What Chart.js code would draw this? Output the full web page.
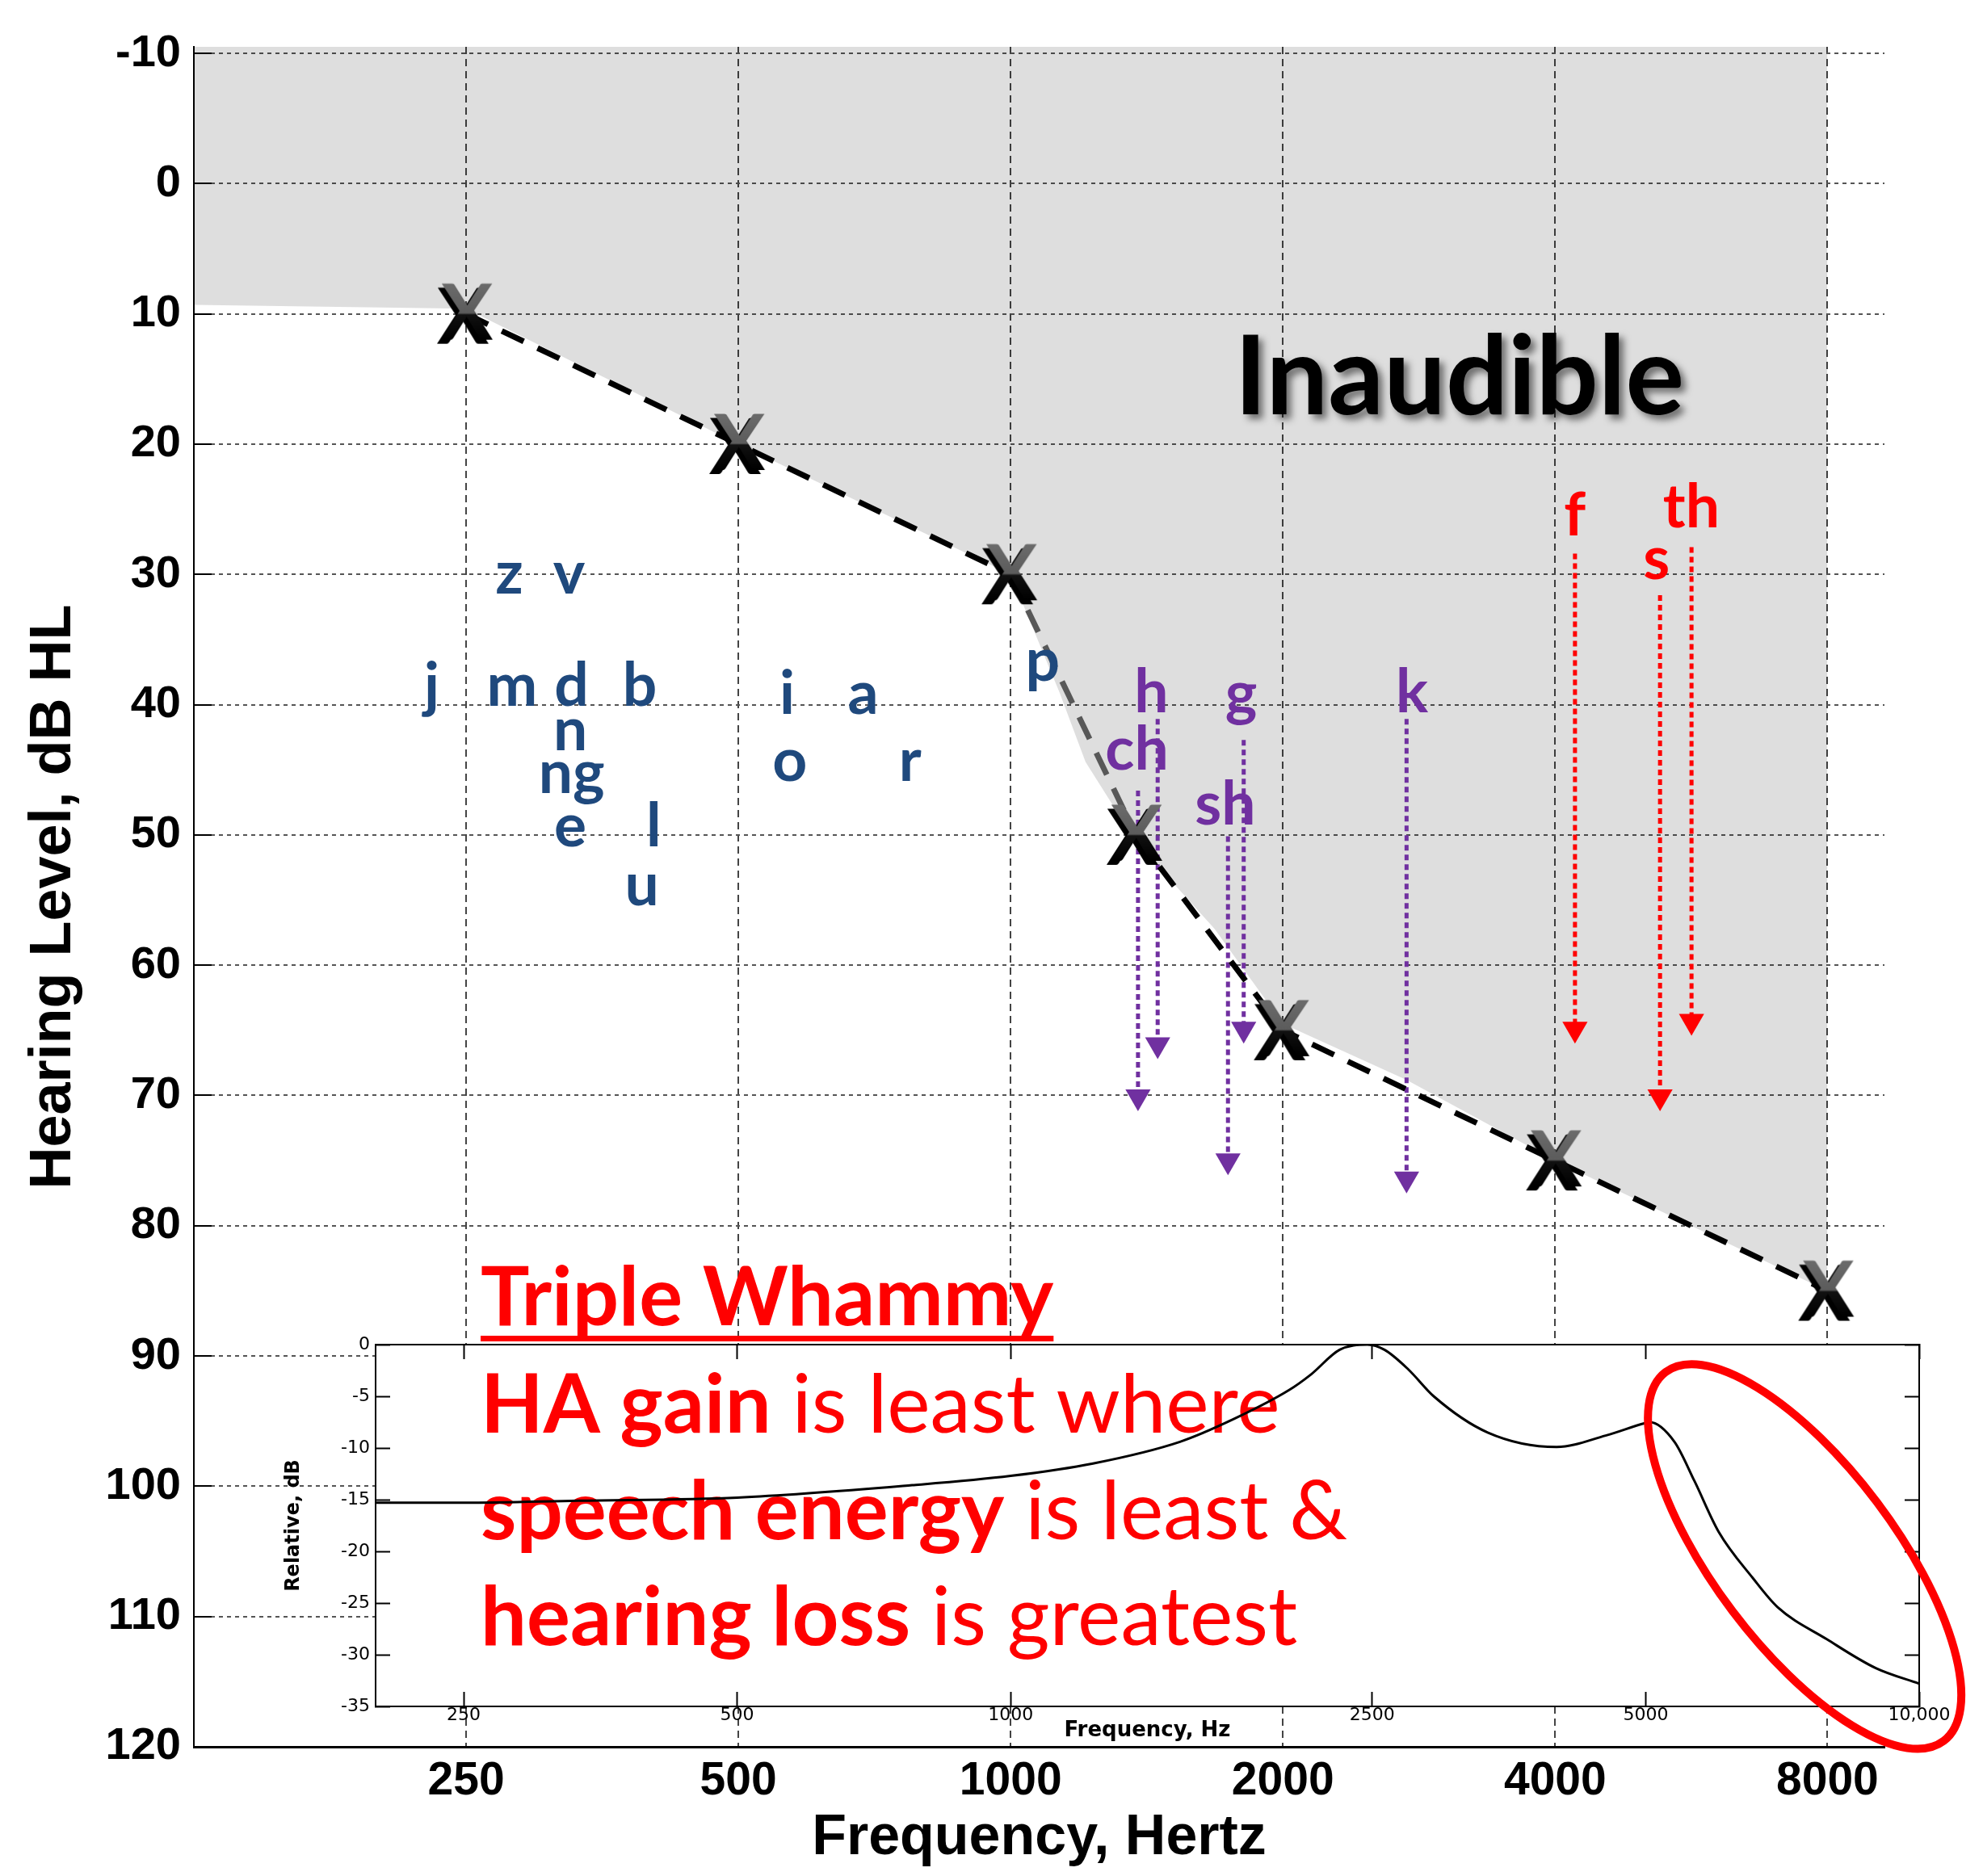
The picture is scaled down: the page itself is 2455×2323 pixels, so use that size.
<!DOCTYPE html>
<html>
<head>
<meta charset="utf-8">
<title>Audiogram - speech sounds and hearing aid gain</title>
<script src="https://cdn.jsdelivr.net/npm/chart.js@4.4.1/dist/chart.umd.min.js"></script>
<style>
  html, body { margin: 0; padding: 0; background: #fff; }
  #wrap { position: relative; width: 2455px; height: 2323px; }
  #wrap canvas { position: absolute; left: 0; top: 0; }
</style>
</head>
<body>
<div id="wrap">
  <canvas id="audiogram" width="2455" height="2323"></canvas>
  <canvas id="gain" width="2455" height="2323"></canvas>
</div>
<script>
// hearing threshold (the X marks)
const thresholdFreqs = [250, 500, 1000, 1375, 2000, 4000, 8000];
const thresholdLevels = [10, 20, 30, 50, 65, 75, 85];

// lower edge of the grey "inaudible" area
const shadeFreqs = [125, 250, 500, 1000, 1133, 1210, 1375, 1680, 2000, 2740, 4000, 8000];
const shadeLevels = [9.3, 9.6, 20, 30, 39.1, 44.4, 50.5, 57.2, 64.5, 68.8, 75, 85];

const freqTicks = [250, 500, 1000, 2000, 4000, 8000];
const levelTicks = [-10, 0, 10, 20, 30, 40, 50, 60, 70, 80, 90, 100, 110, 120];

// speech sounds, group 0 = audible (blue), 1 = purple, 2 = red
const soundLabels = ['z', 'v', 'j', 'm', 'd', 'b', 'n', 'ng', 'e', 'l', 'u', 'i', 'a', 'o', 'r', 'p',
                     'h', 'ch', 'g', 'sh', 'k', 'f', 'th', 's'];
const soundFreqs = [279, 325, 229, 281, 327, 389, 326, 327, 326, 403, 391, 566, 687, 570, 774, 1085,
                    1431, 1379, 1798, 1727, 2778, 4206, 5658, 5178];
const soundLevels = [30.3, 30.3, 38.9, 38.9, 38.9, 38.9, 42.3, 45.6, 49.7, 49.7, 54.2, 39.5, 39.5, 44.7, 44.7, 37.0,
                     39.4, 43.8, 39.5, 48.0, 39.4, 25.8, 25.2, 29.2];
const soundGroups = [0, 0, 0, 0, 0, 0, 0, 0, 0, 0, 0, 0, 0, 0, 0, 0,
                     1, 1, 1, 1, 1, 2, 2, 2];

// dotted arrows (ch, h, sh, g, k, f, s, th)
const arrowFreqs = [1383, 1454, 1739, 1810, 2740, 4207, 5224, 5660];
const arrowFrom = [46.6, 41.1, 50.1, 42.7, 41.1, 28.4, 31.6, 27.9];
const arrowTo = [70.1, 66.1, 75.0, 64.9, 76.4, 64.9, 70.1, 64.3];
const arrowGroups = [1, 1, 1, 1, 1, 2, 2, 2];

// inset: hearing aid gain, relative dB
const gainFreqs = [200, 250, 334, 500, 779, 1000, 1232, 1536, 1760, 2025, 2140, 2302, 2470, 2579, 2740,
                   2922, 3350, 3990, 4517, 4990, 5050, 5378, 5658, 6015, 6562, 6985, 7912, 8960, 10000];
const gainLevels = [-15.3, -15.3, -15.1, -14.8, -13.6, -12.7, -11.5, -9.4, -7.2, -4.4, -2.9, -0.5, 0, -0.5, -2.4,
                    -5.0, -8.5, -9.9, -8.8, -7.6, -7.5, -9.4, -13.2, -18.1, -22.6, -25.4, -28.5, -31.3, -32.8];
const gainFreqTicks = [250, 500, 1000, 2500, 5000, 10000];

const groupColors = ['#1F497D', '#7030A0', '#FF0000'];
const AXIS_FONT = 'Liberation Sans, Arial, sans-serif';

function makeXMark() {
  const c = document.createElement('canvas');
  c.width = 100; c.height = 100;
  const g = c.getContext('2d');
  g.font = 'bold 96px Lato';
  g.textAlign = 'center';
  g.fillStyle = '#000';
  g.fillText('X', 46, 87);
  const grad = g.createLinearGradient(0, 16, 0, 82);
  grad.addColorStop(0, '#6a6a6a');
  grad.addColorStop(0.5, '#5c5c5c');
  grad.addColorStop(0.53, '#111');
  grad.addColorStop(1, '#000');
  g.fillStyle = grad;
  g.fillText('X', 51, 82);
  return c;
}

const whiteBg = {
  id: 'whiteBg',
  beforeDraw(chart) {
    const ctx = chart.ctx;
    ctx.save();
    ctx.fillStyle = '#fff';
    ctx.fillRect(0, 0, chart.width, chart.height);
    ctx.restore();
  }
};

const soundText = {
  id: 'soundText',
  afterDatasetsDraw(chart) {
    const {ctx, scales: {x, y}} = chart;
    ctx.save();
    ctx.font = 'bold 75px Lato';
    ctx.textAlign = 'center';
    ctx.textBaseline = 'alphabetic';
    soundLabels.forEach((s, i) => {
      ctx.fillStyle = groupColors[soundGroups[i]];
      ctx.fillText(s, x.getPixelForValue(soundFreqs[i]), y.getPixelForValue(soundLevels[i]) + 19);
    });
    // "Inaudible" with its drop shadow
    ctx.font = 'bold 136px Lato';
    ctx.fillStyle = '#000';
    ctx.shadowColor = 'rgba(0,0,0,0.5)';
    ctx.shadowOffsetX = 6;
    ctx.shadowOffsetY = 6;
    ctx.shadowBlur = 8;
    ctx.fillText('Inaudible', x.getPixelForValue(3134), y.getPixelForValue(17.7));
    ctx.restore();
  }
};

function buildAudiogram() {
  const xMark = makeXMark();
  const datasets = [{
    label: 'Threshold',
    data: thresholdFreqs.map((f, i) => ({x: f, y: thresholdLevels[i]})),
    borderColor: '#000',
    borderWidth: 7,
    borderDash: [30, 19],
    segment: { borderColor: c => (c.p0DataIndex === 2 ? '#585858' : '#000') },
    pointStyle: xMark,
    pointRadius: 30,
    fill: false
  }];
  arrowFreqs.forEach((f, i) => {
    const col = groupColors[arrowGroups[i]];
    datasets.push({
      label: 'arrow' + i,
      data: [{x: f, y: arrowFrom[i]}, {x: f, y: arrowTo[i]}],
      borderColor: col,
      borderWidth: 5,
      borderDash: [7, 5],
      pointStyle: 'triangle',
      rotation: 180,
      pointRadius: [0, 18],
      pointBackgroundColor: col,
      pointBorderWidth: 0,
      fill: false
    });
  });
  datasets.push({
    label: 'Inaudible',
    data: shadeFreqs.map((f, i) => ({x: f, y: shadeLevels[i]})),
    borderWidth: 0,
    borderColor: 'rgba(0,0,0,0)',
    backgroundColor: 'rgba(0,0,0,0.13)',
    fill: 'end',
    tension: 0,
    pointRadius: 0
  });

  new Chart(document.getElementById('audiogram'), {
    type: 'line',
    data: { datasets },
    plugins: [whiteBg, soundText],
    options: {
      responsive: false,
      animation: false,
      layout: { padding: { top: 58, right: 122, left: 0, bottom: 0 } },
      plugins: { legend: { display: false }, tooltip: { enabled: false } },
      scales: {
        x: {
          type: 'logarithmic',
          min: 125,
          max: 9250,
          afterBuildTicks: s => { s.ticks = freqTicks.map(v => ({value: v})); },
          afterFit: s => { s.height = 160; s.paddingLeft = 0; s.paddingRight = 0; },
          ticks: {
            autoSkip: false, maxRotation: 0, padding: 9, color: '#000',
            font: { family: AXIS_FONT, size: 57, weight: 'bold' },
            callback: v => String(v)
          },
          grid: { color: '#444', lineWidth: 2, drawTicks: false },
          border: { display: true, color: '#000', width: 3, dash: [9, 6] },
          title: {
            display: true, text: 'Frequency, Hertz', color: '#000',
            font: { family: AXIS_FONT, size: 70, weight: 'bold' },
            padding: { top: 0, bottom: 4 }
          }
        },
        y: {
          type: 'linear',
          reverse: true,
          min: -10.5,
          max: 120,
          afterBuildTicks: s => { s.ticks = levelTicks.map(v => ({value: v})); },
          afterFit: s => { s.width = 240; s.paddingTop = 0; s.paddingBottom = 0; },
          ticks: {
            padding: 38, color: '#000',
            font: { family: AXIS_FONT, size: 56, weight: 'bold' },
            callback: v => String(v)
          },
          grid: { color: '#555', lineWidth: 2, drawTicks: true, tickLength: -22, tickColor: '#000', tickWidth: 2 },
          border: { display: true, color: '#000', width: 2, dash: [5, 5] },
          title: {
            display: true, text: 'Hearing Level, dB HL', color: '#000',
            font: { family: AXIS_FONT, size: 72, weight: 'bold' },
            padding: { top: 24, bottom: 0 }
          }
        }
      }
    }
  });
}

// ---------- inset (hearing aid gain) ----------
const insetBox = {
  id: 'insetBox',
  beforeDraw(chart) {
    const {ctx, chartArea: a} = chart;
    ctx.save();
    ctx.fillStyle = '#fff';
    ctx.fillRect(a.left, a.top, a.right - a.left, a.bottom - a.top);
    ctx.restore();
  },
  beforeDatasetsDraw(chart) {
    const {ctx, chartArea: a} = chart;
    const lines = [
      [['Triple Whammy', 'bold']],
      [['HA gain', 'bold'], [' is least where', 'normal']],
      [['speech energy', 'bold'], [' is least &', 'normal']],
      [['hearing loss', 'bold'], [' is greatest', 'normal']]
    ];
    const baselines = [-24, 109, 241, 372];
    ctx.save();
    ctx.fillStyle = '#FF0000';
    ctx.textBaseline = 'alphabetic';
    ctx.textAlign = 'left';
    lines.forEach((parts, li) => {
      let px = a.left + 130;
      const py = a.top + baselines[li];
      parts.forEach(([t, w]) => {
        ctx.font = w + ' 101px Lato';
        ctx.fillText(t, px, py);
        const tw = ctx.measureText(t).width;
        if (li === 0) ctx.fillRect(px, py + 13, tw, 7);
        px += tw;
      });
    });
    ctx.restore();
  },
  afterDatasetsDraw(chart) {
    const {ctx, scales: {x, y}} = chart;
    ctx.save();
    ctx.strokeStyle = '#FF0000';
    ctx.lineWidth = 10;
    ctx.beginPath();
    ctx.ellipse(x.getPixelForValue(7480), y.getPixelForValue(-20.5), 286, 112, 53 * Math.PI / 180, 0, Math.PI * 2);
    ctx.stroke();
    ctx.restore();
  }
};

function buildInset() {
  const tickFont = { family: 'DejaVu Sans, sans-serif', size: 22 };
  const frameGrid = { drawOnChartArea: false, drawTicks: true, tickLength: -18, tickColor: '#000', tickWidth: 2 };
  const frameBorder = { display: true, color: '#000', width: 2 };
  const logTicks = s => { s.ticks = gainFreqTicks.map(v => ({value: v})); };

  new Chart(document.getElementById('gain'), {
    type: 'line',
    data: {
      datasets: [{
        label: 'Relative gain',
        data: gainFreqs.map((f, i) => ({x: f, y: gainLevels[i]})),
        borderColor: '#000',
        borderWidth: 3,
        tension: 0.4,
        cubicInterpolationMode: 'monotone',
        pointRadius: 0,
        fill: false
      }]
    },
    plugins: [insetBox],
    options: {
      responsive: false,
      animation: false,
      layout: { padding: { top: 1665, right: 79, left: 330, bottom: 150 } },
      plugins: { legend: { display: false }, tooltip: { enabled: false } },
      scales: {
        x: {
          type: 'logarithmic', position: 'bottom', min: 200, max: 10000,
          afterBuildTicks: logTicks,
          afterFit: s => { s.height = 60; },
          ticks: {
            autoSkip: false, maxRotation: 0, padding: 16, color: '#000', font: tickFont,
            callback: v => (v === 10000 ? '10,000' : String(v))
          },
          grid: frameGrid,
          border: frameBorder,
          title: {
            display: true, text: 'Frequency, Hz', color: '#000',
            font: { family: 'DejaVu Sans, sans-serif', size: 26, weight: 'bold' },
            padding: { top: 0, bottom: 14 }
          }
        },
        x2: {
          type: 'logarithmic', position: 'top', min: 200, max: 10000,
          afterBuildTicks: logTicks,
          afterFit: s => { s.height = 0; },
          ticks: { display: false },
          grid: frameGrid,
          border: frameBorder
        },
        y: {
          type: 'linear', position: 'left', min: -35, max: 0,
          afterFit: s => { s.width = 135; },
          ticks: { stepSize: 5, padding: 25, color: '#000', font: tickFont },
          grid: frameGrid,
          border: frameBorder,
          title: {
            display: true, text: 'Relative, dB', color: '#000',
            font: { family: 'DejaVu Sans, sans-serif', size: 24, weight: 'bold' },
            padding: { top: 19, bottom: 0 }
          }
        },
        y2: {
          type: 'linear', position: 'right', min: -35, max: 0,
          afterFit: s => { s.width = 0; },
          ticks: { stepSize: 5, display: false },
          grid: frameGrid,
          border: frameBorder
        }
      }
    }
  });
}

Promise.all([
  document.fonts.load('bold 75px Lato'),
  document.fonts.load('96px Lato'),
  document.fonts.load('bold 56px "Liberation Sans"'),
  document.fonts.load('20px "DejaVu Sans"'),
  document.fonts.load('bold 20px "DejaVu Sans"')
]).catch(() => null).then(() => {
  buildAudiogram();
  buildInset();
});
</script>
</body>
</html>
